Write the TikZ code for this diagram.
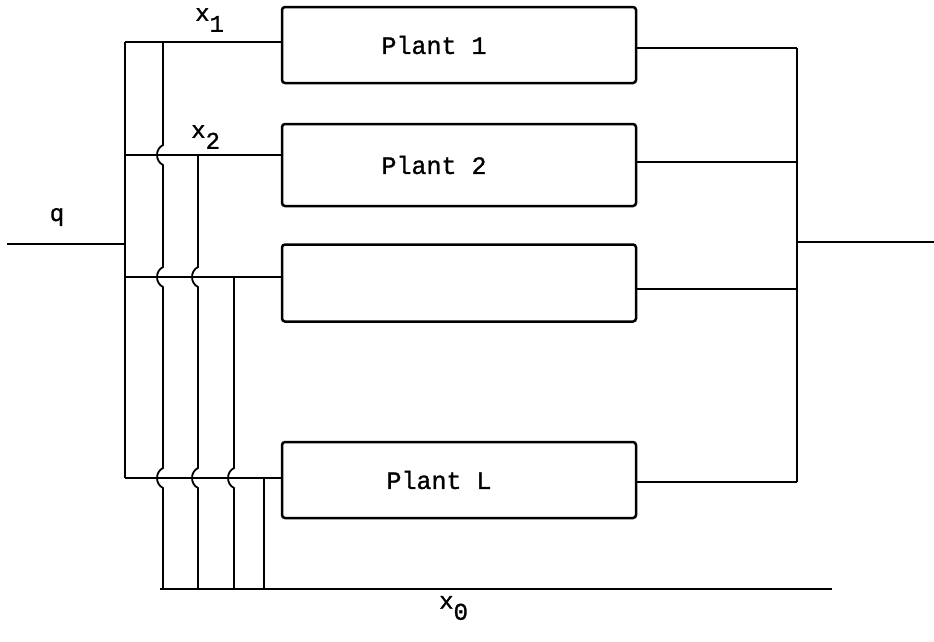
\documentclass[tikz,border=0pt]{standalone}
\usepackage{fontspec}
\newfontfamily\twfont{Liberation Mono}[FakeBold=1.2]
\begin{document}
\begin{tikzpicture}[x=1pt,y=-1pt,
  wire/.style={line width=2.5pt},
  thin wire/.style={line width=1.8pt},
  plant/.style={draw,line width=2.5pt,rounded corners=3pt,minimum width=354pt,minimum height=76pt,inner sep=0pt,font=\twfont\fontsize{25}{25}\selectfont},
  lab/.style={inner sep=0pt,font=\twfont\fontsize{24}{24}\selectfont}]
\useasboundingbox (0,0) rectangle (934,641);
% plants
\node[plant] (p1) at (459,45) {\hspace*{-50pt}Plant 1};
\node[plant,minimum height=82pt] (p2) at (459,165) {\hspace*{-50pt}Plant 2};
\node[plant,minimum height=77pt] (p3) at (459,283) {};
\node[plant] (pL) at (459,480) {\hspace*{-40pt}Plant L};
% left bus coordinates
\coordinate (qin) at (7,244);
\coordinate (lb1) at (125,42);
\coordinate (lb2) at (125,155);
\coordinate (lbq) at (125,244);
\coordinate (lb3) at (125,277);
\coordinate (lbL) at (125,478);
% right bus
\coordinate (rb1) at (797,48);
\coordinate (rb2) at (797,162);
\coordinate (rbo) at (797,242);
\coordinate (rb3) at (797,289);
\coordinate (rbL) at (797,482);
\coordinate (out) at (934,242);
% bottom bus
\coordinate (bb0) at (160,589);
\coordinate (bbE) at (832,589);
% labels
\node[lab] (q) at (57,217) {q};
\node[lab,anchor=west] (x1) at (195,20) {x\raisebox{-11pt}{1}};
\node[lab,anchor=west] (x2) at (191,137) {x\raisebox{-11pt}{2}};
\node[lab,anchor=west] (x0) at (439,608) {x\raisebox{-11pt}{0}};
% input side
\draw[wire] (qin) -- (lbq);
\draw[wire] (lb1) -- (lbL);
\draw[wire] (lb1) -- (lb1 -| p1.west);
\draw[wire] (lb2) -- (lb2 -| p2.west);
\draw[wire] (lb3) -- (lb3 -| p3.west);
\draw[wire] (lbL) -- (lbL -| pL.west);
% output side
\draw[wire] (rb1 -| p1.east) -- (rb1);
\draw[wire] (rb2 -| p2.east) -- (rb2);
\draw[wire] (rb3 -| p3.east) -- (rb3);
\draw[wire] (rbL -| pL.east) -- (rbL);
\draw[wire] (rb1) -- (rbL);
\draw[wire] (rbo) -- (out);
% bottom bus
\draw[wire] (bb0) -- (bbE);
% verticals with jumps
\def\jmp#1#2{-- (#1,#2-10) .. controls (#1-8,#2-6) and (#1-8,#2+6) .. (#1,#2+10)}
\draw[thin wire] (163,42) \jmp{163}{155} \jmp{163}{277} \jmp{163}{478} -- (163,589);
\draw[thin wire] (198,155) \jmp{198}{277} \jmp{198}{478} -- (198,589);
\draw[thin wire] (234,277) \jmp{234}{478} -- (234,589);
\draw[thin wire] (264,478) -- (264,589);
\end{tikzpicture}
\end{document}
